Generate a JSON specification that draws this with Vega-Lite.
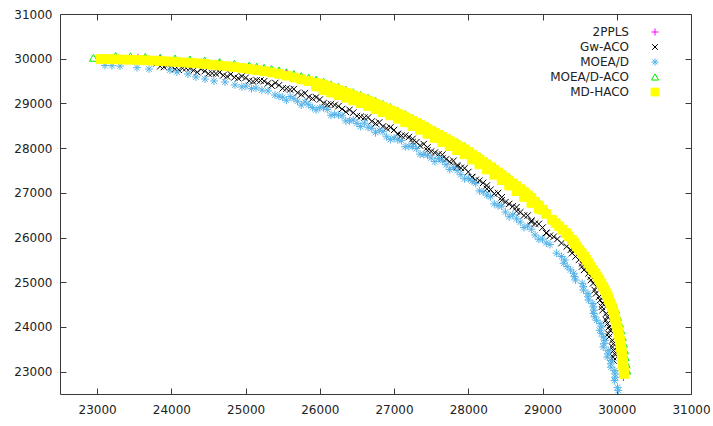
{
"$schema": "https://vega.github.io/schema/vega-lite/v6.json",
"width": 631, "height": 380,
"autosize": {"type": "none"},
"padding": {"left": 60, "top": 14, "right": 22, "bottom": 32},
"background": "white",
"config": {
  "view": {"stroke": "#3a3a3a", "strokeWidth": 1},
  "font": "DejaVu Sans",
  "axis": {"grid": false, "domain": false, "tickSize": -6, "tickColor": "#3a3a3a", "tickWidth": 1, "labelColor": "#222222", "labelFontSize": 12, "labelFont": "DejaVu Sans", "title": null},
  "legend": {"orient": "none", "legendX": 589, "legendY": 12, "labelAlign": "right", "labelOffset": -32, "rowPadding": 3, "symbolSize": 50, "labelFontSize": 12, "labelFont": "DejaVu Sans", "labelColor": "#222222", "padding": 0, "title": null, "symbolStrokeWidth": 1}
},
"data": {"values": [
{"alg":"2PPLS","f1":23550,"f2":30017},{"alg":"2PPLS","f1":23850,"f2":29994},{"alg":"2PPLS","f1":24650,"f2":29894},{"alg":"2PPLS","f1":25550,"f2":29667},{"alg":"2PPLS","f1":26150,"f2":29398},{"alg":"2PPLS","f1":26950,"f2":28888},{"alg":"2PPLS","f1":27450,"f2":28475},{"alg":"2PPLS","f1":27850,"f2":28110},{"alg":"2PPLS","f1":28450,"f2":27442},{"alg":"2PPLS","f1":28750,"f2":27064},{"alg":"2PPLS","f1":29560,"f2":25440},{"alg":"2PPLS","f1":29800,"f2":24830},{"alg":"2PPLS","f1":29970,"f2":24300},{"alg":"2PPLS","f1":30060,"f2":23700},{"alg":"2PPLS","f1":30090,"f2":22880},

{"alg":"Gw-ACO","f1":23800,"f2":29896},{"alg":"Gw-ACO","f1":23900,"f2":29814},{"alg":"Gw-ACO","f1":24000,"f2":29826},{"alg":"Gw-ACO","f1":24100,"f2":29753},{"alg":"Gw-ACO","f1":24200,"f2":29788},{"alg":"Gw-ACO","f1":24300,"f2":29740},{"alg":"Gw-ACO","f1":24400,"f2":29766},{"alg":"Gw-ACO","f1":24500,"f2":29665},{"alg":"Gw-ACO","f1":24600,"f2":29668},{"alg":"Gw-ACO","f1":24700,"f2":29627},{"alg":"Gw-ACO","f1":24800,"f2":29650},{"alg":"Gw-ACO","f1":24900,"f2":29563},{"alg":"Gw-ACO","f1":25000,"f2":29572},{"alg":"Gw-ACO","f1":25100,"f2":29490},{"alg":"Gw-ACO","f1":25200,"f2":29511},{"alg":"Gw-ACO","f1":25300,"f2":29447},{"alg":"Gw-ACO","f1":25400,"f2":29458},{"alg":"Gw-ACO","f1":25500,"f2":29338},{"alg":"Gw-ACO","f1":25600,"f2":29310},{"alg":"Gw-ACO","f1":25700,"f2":29237},{"alg":"Gw-ACO","f1":25800,"f2":29228},{"alg":"Gw-ACO","f1":25900,"f2":29110},{"alg":"Gw-ACO","f1":26000,"f2":29087},{"alg":"Gw-ACO","f1":26100,"f2":28971},{"alg":"Gw-ACO","f1":26200,"f2":28965},{"alg":"Gw-ACO","f1":26300,"f2":28874},{"alg":"Gw-ACO","f1":26400,"f2":28857},{"alg":"Gw-ACO","f1":26500,"f2":28716},{"alg":"Gw-ACO","f1":26600,"f2":28680},{"alg":"Gw-ACO","f1":26700,"f2":28597},{"alg":"Gw-ACO","f1":26800,"f2":28575},{"alg":"Gw-ACO","f1":26900,"f2":28443},{"alg":"Gw-ACO","f1":27000,"f2":28406},{"alg":"Gw-ACO","f1":27100,"f2":28280},{"alg":"Gw-ACO","f1":27200,"f2":28249},{"alg":"Gw-ACO","f1":27300,"f2":28132},{"alg":"Gw-ACO","f1":27400,"f2":28091},{"alg":"Gw-ACO","f1":27500,"f2":27925},{"alg":"Gw-ACO","f1":27600,"f2":27863},{"alg":"Gw-ACO","f1":27700,"f2":27749},{"alg":"Gw-ACO","f1":27800,"f2":27715},{"alg":"Gw-ACO","f1":27900,"f2":27560},{"alg":"Gw-ACO","f1":28000,"f2":27467},{"alg":"Gw-ACO","f1":28100,"f2":27290},{"alg":"Gw-ACO","f1":28200,"f2":27223},{"alg":"Gw-ACO","f1":28300,"f2":27071},{"alg":"Gw-ACO","f1":28400,"f2":26994},{"alg":"Gw-ACO","f1":28500,"f2":26791},{"alg":"Gw-ACO","f1":28600,"f2":26699},{"alg":"Gw-ACO","f1":28700,"f2":26563},{"alg":"Gw-ACO","f1":28800,"f2":26493},{"alg":"Gw-ACO","f1":28900,"f2":26312},{"alg":"Gw-ACO","f1":29000,"f2":26222},{"alg":"Gw-ACO","f1":29100,"f2":26040},{"alg":"Gw-ACO","f1":29200,"f2":25966},
{"alg":"Gw-ACO","f1":23850,"f2":29830},{"alg":"Gw-ACO","f1":23950,"f2":29858},{"alg":"Gw-ACO","f1":24050,"f2":29765},{"alg":"Gw-ACO","f1":24150,"f2":29786},{"alg":"Gw-ACO","f1":24250,"f2":29782},{"alg":"Gw-ACO","f1":24350,"f2":29698},{"alg":"Gw-ACO","f1":24450,"f2":29723},{"alg":"Gw-ACO","f1":24550,"f2":29672},{"alg":"Gw-ACO","f1":24650,"f2":29695},{"alg":"Gw-ACO","f1":24750,"f2":29604},{"alg":"Gw-ACO","f1":24850,"f2":29582},{"alg":"Gw-ACO","f1":24950,"f2":29605},{"alg":"Gw-ACO","f1":25050,"f2":29506},{"alg":"Gw-ACO","f1":25150,"f2":29516},{"alg":"Gw-ACO","f1":25250,"f2":29497},{"alg":"Gw-ACO","f1":25350,"f2":29398},{"alg":"Gw-ACO","f1":25450,"f2":29406},{"alg":"Gw-ACO","f1":25550,"f2":29329},{"alg":"Gw-ACO","f1":25650,"f2":29321},{"alg":"Gw-ACO","f1":25750,"f2":29198},{"alg":"Gw-ACO","f1":25850,"f2":29144},{"alg":"Gw-ACO","f1":25950,"f2":29136},{"alg":"Gw-ACO","f1":26050,"f2":29004},{"alg":"Gw-ACO","f1":26150,"f2":28983},{"alg":"Gw-ACO","f1":26250,"f2":28937},{"alg":"Gw-ACO","f1":26350,"f2":28811},{"alg":"Gw-ACO","f1":26450,"f2":28794},{"alg":"Gw-ACO","f1":26550,"f2":28703},{"alg":"Gw-ACO","f1":26650,"f2":28686},{"alg":"Gw-ACO","f1":26750,"f2":28551},{"alg":"Gw-ACO","f1":26850,"f2":28484},{"alg":"Gw-ACO","f1":26950,"f2":28462},{"alg":"Gw-ACO","f1":27050,"f2":28318},{"alg":"Gw-ACO","f1":27150,"f2":28280},{"alg":"Gw-ACO","f1":27250,"f2":28208},{"alg":"Gw-ACO","f1":27350,"f2":28057},{"alg":"Gw-ACO","f1":27450,"f2":28016},{"alg":"Gw-ACO","f1":27550,"f2":27899},{"alg":"Gw-ACO","f1":27650,"f2":27854},{"alg":"Gw-ACO","f1":27750,"f2":27697},{"alg":"Gw-ACO","f1":27850,"f2":27613},{"alg":"Gw-ACO","f1":27950,"f2":27551},{"alg":"Gw-ACO","f1":28050,"f2":27354},{"alg":"Gw-ACO","f1":28150,"f2":27272},{"alg":"Gw-ACO","f1":28250,"f2":27165},{"alg":"Gw-ACO","f1":28350,"f2":26978},{"alg":"Gw-ACO","f1":28450,"f2":26900},{"alg":"Gw-ACO","f1":28550,"f2":26750},{"alg":"Gw-ACO","f1":28650,"f2":26679},{"alg":"Gw-ACO","f1":28750,"f2":26493},{"alg":"Gw-ACO","f1":28850,"f2":26378},{"alg":"Gw-ACO","f1":28950,"f2":26305},{"alg":"Gw-ACO","f1":29050,"f2":26106},{"alg":"Gw-ACO","f1":29150,"f2":26018},
{"alg":"Gw-ACO","f1":27050,"f2":28308},{"alg":"Gw-ACO","f1":27250,"f2":28133},{"alg":"Gw-ACO","f1":27450,"f2":27950},{"alg":"Gw-ACO","f1":27650,"f2":27768},{"alg":"Gw-ACO","f1":27850,"f2":27585},{"alg":"Gw-ACO","f1":28050,"f2":27344},{"alg":"Gw-ACO","f1":28250,"f2":27089},{"alg":"Gw-ACO","f1":28450,"f2":26835},{"alg":"Gw-ACO","f1":28650,"f2":26589},{"alg":"Gw-ACO","f1":28850,"f2":26348},{"alg":"Gw-ACO","f1":29050,"f2":26096},
{"alg":"Gw-ACO","f1":29326,"f2":25800},{"alg":"Gw-ACO","f1":29398,"f2":25650},{"alg":"Gw-ACO","f1":29491,"f2":25500},{"alg":"Gw-ACO","f1":29532,"f2":25350},{"alg":"Gw-ACO","f1":29620,"f2":25200},{"alg":"Gw-ACO","f1":29652,"f2":25050},{"alg":"Gw-ACO","f1":29730,"f2":24900},{"alg":"Gw-ACO","f1":29720,"f2":24750},{"alg":"Gw-ACO","f1":29775,"f2":24600},{"alg":"Gw-ACO","f1":29799,"f2":24450},{"alg":"Gw-ACO","f1":29859,"f2":24300},{"alg":"Gw-ACO","f1":29854,"f2":24150},{"alg":"Gw-ACO","f1":29896,"f2":24000},{"alg":"Gw-ACO","f1":29886,"f2":23850},{"alg":"Gw-ACO","f1":29940,"f2":23700},{"alg":"Gw-ACO","f1":29942,"f2":23550},{"alg":"Gw-ACO","f1":29970,"f2":23400},{"alg":"Gw-ACO","f1":29957,"f2":23250},
{"alg":"Gw-ACO","f1":29255,"f2":25875},{"alg":"Gw-ACO","f1":29380,"f2":25725},{"alg":"Gw-ACO","f1":29445,"f2":25575},{"alg":"Gw-ACO","f1":29532,"f2":25425},{"alg":"Gw-ACO","f1":29559,"f2":25275},{"alg":"Gw-ACO","f1":29649,"f2":25125},{"alg":"Gw-ACO","f1":29681,"f2":24975},{"alg":"Gw-ACO","f1":29703,"f2":24825},{"alg":"Gw-ACO","f1":29763,"f2":24675},{"alg":"Gw-ACO","f1":29807,"f2":24525},{"alg":"Gw-ACO","f1":29809,"f2":24375},{"alg":"Gw-ACO","f1":29874,"f2":24225},{"alg":"Gw-ACO","f1":29875,"f2":24075},{"alg":"Gw-ACO","f1":29911,"f2":23925},{"alg":"Gw-ACO","f1":29896,"f2":23775},{"alg":"Gw-ACO","f1":29954,"f2":23625},{"alg":"Gw-ACO","f1":29956,"f2":23475},{"alg":"Gw-ACO","f1":29951,"f2":23325},

{"alg":"MOEA/D","f1":23106,"f2":29850},{"alg":"MOEA/D","f1":23200,"f2":29845},{"alg":"MOEA/D","f1":23308,"f2":29835},{"alg":"MOEA/D","f1":23537,"f2":29800},{"alg":"MOEA/D","f1":23699,"f2":29770},{"alg":"MOEA/D","f1":23982,"f2":29747},{"alg":"MOEA/D","f1":24076,"f2":29703},{"alg":"MOEA/D","f1":24224,"f2":29658},{"alg":"MOEA/D","f1":24332,"f2":29591},{"alg":"MOEA/D","f1":24453,"f2":29546},{"alg":"MOEA/D","f1":24574,"f2":29501},{"alg":"MOEA/D","f1":24723,"f2":29479},{"alg":"MOEA/D","f1":24857,"f2":29412},{"alg":"MOEA/D","f1":25005,"f2":29389},{"alg":"MOEA/D","f1":25140,"f2":29345},{"alg":"MOEA/D","f1":25302,"f2":29278},{"alg":"MOEA/D","f1":25396,"f2":29188},
{"alg":"MOEA/D","f1":24950,"f2":29370},{"alg":"MOEA/D","f1":25080,"f2":29330},{"alg":"MOEA/D","f1":25220,"f2":29300},{"alg":"MOEA/D","f1":25450,"f2":29160},
{"alg":"MOEA/D","f1":25500,"f2":29138},{"alg":"MOEA/D","f1":25600,"f2":29154},{"alg":"MOEA/D","f1":25700,"f2":29050},{"alg":"MOEA/D","f1":25800,"f2":29031},{"alg":"MOEA/D","f1":25900,"f2":28908},{"alg":"MOEA/D","f1":26000,"f2":28904},{"alg":"MOEA/D","f1":26100,"f2":28866},{"alg":"MOEA/D","f1":26200,"f2":28753},{"alg":"MOEA/D","f1":26300,"f2":28724},{"alg":"MOEA/D","f1":26400,"f2":28611},{"alg":"MOEA/D","f1":26500,"f2":28553},{"alg":"MOEA/D","f1":26600,"f2":28560},{"alg":"MOEA/D","f1":26700,"f2":28443},{"alg":"MOEA/D","f1":26800,"f2":28401},{"alg":"MOEA/D","f1":26900,"f2":28253},{"alg":"MOEA/D","f1":27000,"f2":28226},{"alg":"MOEA/D","f1":27100,"f2":28172},{"alg":"MOEA/D","f1":27200,"f2":28039},{"alg":"MOEA/D","f1":27300,"f2":27991},{"alg":"MOEA/D","f1":27400,"f2":27858},{"alg":"MOEA/D","f1":27500,"f2":27780},{"alg":"MOEA/D","f1":27600,"f2":27767},{"alg":"MOEA/D","f1":27700,"f2":27627},{"alg":"MOEA/D","f1":27800,"f2":27570},{"alg":"MOEA/D","f1":27900,"f2":27405},{"alg":"MOEA/D","f1":28000,"f2":27322},{"alg":"MOEA/D","f1":28100,"f2":27213},{"alg":"MOEA/D","f1":28200,"f2":27025},{"alg":"MOEA/D","f1":28300,"f2":26912},{"alg":"MOEA/D","f1":28400,"f2":26713},{"alg":"MOEA/D","f1":28500,"f2":26570},{"alg":"MOEA/D","f1":28600,"f2":26509},{"alg":"MOEA/D","f1":28700,"f2":26346},{"alg":"MOEA/D","f1":28800,"f2":26257},{"alg":"MOEA/D","f1":28900,"f2":26055},{"alg":"MOEA/D","f1":29000,"f2":25967},{"alg":"MOEA/D","f1":29100,"f2":25844},
{"alg":"MOEA/D","f1":25550,"f2":29071},{"alg":"MOEA/D","f1":25750,"f2":28963},{"alg":"MOEA/D","f1":25950,"f2":28856},{"alg":"MOEA/D","f1":26150,"f2":28735},{"alg":"MOEA/D","f1":26350,"f2":28608},{"alg":"MOEA/D","f1":26550,"f2":28482},{"alg":"MOEA/D","f1":26750,"f2":28345},{"alg":"MOEA/D","f1":26950,"f2":28190},{"alg":"MOEA/D","f1":27150,"f2":28031},{"alg":"MOEA/D","f1":27350,"f2":27865},{"alg":"MOEA/D","f1":27550,"f2":27699},{"alg":"MOEA/D","f1":27750,"f2":27521},{"alg":"MOEA/D","f1":27950,"f2":27314},{"alg":"MOEA/D","f1":28150,"f2":27044},{"alg":"MOEA/D","f1":28350,"f2":26753},{"alg":"MOEA/D","f1":28550,"f2":26465},{"alg":"MOEA/D","f1":28750,"f2":26224},{"alg":"MOEA/D","f1":28950,"f2":25961},
{"alg":"MOEA/D","f1":25650,"f2":29107},{"alg":"MOEA/D","f1":25850,"f2":28970},{"alg":"MOEA/D","f1":26050,"f2":28903},{"alg":"MOEA/D","f1":26250,"f2":28741},{"alg":"MOEA/D","f1":26450,"f2":28630},{"alg":"MOEA/D","f1":26650,"f2":28467},{"alg":"MOEA/D","f1":26850,"f2":28367},{"alg":"MOEA/D","f1":27050,"f2":28187},{"alg":"MOEA/D","f1":27250,"f2":28038},{"alg":"MOEA/D","f1":27450,"f2":27842},{"alg":"MOEA/D","f1":27650,"f2":27717},{"alg":"MOEA/D","f1":27850,"f2":27498},{"alg":"MOEA/D","f1":28050,"f2":27265},{"alg":"MOEA/D","f1":28250,"f2":26951},{"alg":"MOEA/D","f1":28450,"f2":26704},{"alg":"MOEA/D","f1":28650,"f2":26418},{"alg":"MOEA/D","f1":28850,"f2":26186},{"alg":"MOEA/D","f1":29050,"f2":25878},
{"alg":"MOEA/D","f1":29190,"f2":25650},{"alg":"MOEA/D","f1":29299,"f2":25500},{"alg":"MOEA/D","f1":29332,"f2":25350},{"alg":"MOEA/D","f1":29420,"f2":25200},{"alg":"MOEA/D","f1":29445,"f2":25050},{"alg":"MOEA/D","f1":29552,"f2":24900},{"alg":"MOEA/D","f1":29612,"f2":24750},{"alg":"MOEA/D","f1":29621,"f2":24600},{"alg":"MOEA/D","f1":29684,"f2":24450},{"alg":"MOEA/D","f1":29687,"f2":24300},{"alg":"MOEA/D","f1":29728,"f2":24150},{"alg":"MOEA/D","f1":29799,"f2":24000},{"alg":"MOEA/D","f1":29796,"f2":23850},{"alg":"MOEA/D","f1":29841,"f2":23700},{"alg":"MOEA/D","f1":29818,"f2":23550},{"alg":"MOEA/D","f1":29881,"f2":23400},{"alg":"MOEA/D","f1":29924,"f2":23250},{"alg":"MOEA/D","f1":29921,"f2":23100},{"alg":"MOEA/D","f1":29977,"f2":22950},{"alg":"MOEA/D","f1":29971,"f2":22800},{"alg":"MOEA/D","f1":30010,"f2":22650},{"alg":"MOEA/D","f1":30020,"f2":22580},
{"alg":"MOEA/D","f1":29257,"f2":25575},{"alg":"MOEA/D","f1":29286,"f2":25425},{"alg":"MOEA/D","f1":29376,"f2":25275},{"alg":"MOEA/D","f1":29430,"f2":25125},{"alg":"MOEA/D","f1":29534,"f2":24975},{"alg":"MOEA/D","f1":29552,"f2":24825},{"alg":"MOEA/D","f1":29614,"f2":24675},{"alg":"MOEA/D","f1":29678,"f2":24525},{"alg":"MOEA/D","f1":29691,"f2":24375},{"alg":"MOEA/D","f1":29705,"f2":24225},{"alg":"MOEA/D","f1":29776,"f2":24075},{"alg":"MOEA/D","f1":29768,"f2":23925},{"alg":"MOEA/D","f1":29819,"f2":23775},{"alg":"MOEA/D","f1":29827,"f2":23625},{"alg":"MOEA/D","f1":29885,"f2":23475},{"alg":"MOEA/D","f1":29873,"f2":23325},{"alg":"MOEA/D","f1":29920,"f2":23175},{"alg":"MOEA/D","f1":29974,"f2":23025},{"alg":"MOEA/D","f1":29979,"f2":22875},

{"alg":"MOEA/D-ACO","f1":22950,"f2":30020},{"alg":"MOEA/D-ACO","f1":23250,"f2":30061},{"alg":"MOEA/D-ACO","f1":23450,"f2":30053},{"alg":"MOEA/D-ACO","f1":23650,"f2":30040},{"alg":"MOEA/D-ACO","f1":23850,"f2":30024},{"alg":"MOEA/D-ACO","f1":24050,"f2":30004},{"alg":"MOEA/D-ACO","f1":24250,"f2":29983},{"alg":"MOEA/D-ACO","f1":24450,"f2":29957},{"alg":"MOEA/D-ACO","f1":24650,"f2":29924},{"alg":"MOEA/D-ACO","f1":24850,"f2":29886},{"alg":"MOEA/D-ACO","f1":25050,"f2":29847},{"alg":"MOEA/D-ACO","f1":25150,"f2":29822},{"alg":"MOEA/D-ACO","f1":25250,"f2":29795},{"alg":"MOEA/D-ACO","f1":25350,"f2":29767},{"alg":"MOEA/D-ACO","f1":25450,"f2":29737},{"alg":"MOEA/D-ACO","f1":25550,"f2":29697},{"alg":"MOEA/D-ACO","f1":25650,"f2":29655},{"alg":"MOEA/D-ACO","f1":25750,"f2":29611},{"alg":"MOEA/D-ACO","f1":25850,"f2":29572},{"alg":"MOEA/D-ACO","f1":25950,"f2":29530},{"alg":"MOEA/D-ACO","f1":26050,"f2":29486},{"alg":"MOEA/D-ACO","f1":26150,"f2":29428},{"alg":"MOEA/D-ACO","f1":26250,"f2":29371},{"alg":"MOEA/D-ACO","f1":26350,"f2":29312},{"alg":"MOEA/D-ACO","f1":26450,"f2":29252},{"alg":"MOEA/D-ACO","f1":26550,"f2":29191},{"alg":"MOEA/D-ACO","f1":26650,"f2":29128},{"alg":"MOEA/D-ACO","f1":26750,"f2":29060},{"alg":"MOEA/D-ACO","f1":26850,"f2":28990},{"alg":"MOEA/D-ACO","f1":26950,"f2":28918},{"alg":"MOEA/D-ACO","f1":27050,"f2":28843},{"alg":"MOEA/D-ACO","f1":27150,"f2":28763},{"alg":"MOEA/D-ACO","f1":27250,"f2":28680},{"alg":"MOEA/D-ACO","f1":27350,"f2":28596},{"alg":"MOEA/D-ACO","f1":27450,"f2":28505},{"alg":"MOEA/D-ACO","f1":27550,"f2":28414},{"alg":"MOEA/D-ACO","f1":27650,"f2":28323},{"alg":"MOEA/D-ACO","f1":27750,"f2":28231},{"alg":"MOEA/D-ACO","f1":27850,"f2":28140},{"alg":"MOEA/D-ACO","f1":27950,"f2":28047},{"alg":"MOEA/D-ACO","f1":28050,"f2":27930},{"alg":"MOEA/D-ACO","f1":28150,"f2":27822},{"alg":"MOEA/D-ACO","f1":28250,"f2":27707},{"alg":"MOEA/D-ACO","f1":28350,"f2":27591},{"alg":"MOEA/D-ACO","f1":28450,"f2":27472},{"alg":"MOEA/D-ACO","f1":28550,"f2":27348},{"alg":"MOEA/D-ACO","f1":28650,"f2":27223},{"alg":"MOEA/D-ACO","f1":28750,"f2":27094},{"alg":"MOEA/D-ACO","f1":28850,"f2":26959},{"alg":"MOEA/D-ACO","f1":28950,"f2":26789},{"alg":"MOEA/D-ACO","f1":29050,"f2":26605},
{"alg":"MOEA/D-ACO","f1":29216,"f2":26325},{"alg":"MOEA/D-ACO","f1":29310,"f2":26175},{"alg":"MOEA/D-ACO","f1":29396,"f2":26025},{"alg":"MOEA/D-ACO","f1":29469,"f2":25875},{"alg":"MOEA/D-ACO","f1":29535,"f2":25725},{"alg":"MOEA/D-ACO","f1":29600,"f2":25575},{"alg":"MOEA/D-ACO","f1":29659,"f2":25425},{"alg":"MOEA/D-ACO","f1":29720,"f2":25275},{"alg":"MOEA/D-ACO","f1":29780,"f2":25125},{"alg":"MOEA/D-ACO","f1":29832,"f2":24975},{"alg":"MOEA/D-ACO","f1":29878,"f2":24825},{"alg":"MOEA/D-ACO","f1":29918,"f2":24675},{"alg":"MOEA/D-ACO","f1":29954,"f2":24525},{"alg":"MOEA/D-ACO","f1":29987,"f2":24375},{"alg":"MOEA/D-ACO","f1":30012,"f2":24225},{"alg":"MOEA/D-ACO","f1":30035,"f2":24075},{"alg":"MOEA/D-ACO","f1":30056,"f2":23925},{"alg":"MOEA/D-ACO","f1":30074,"f2":23775},{"alg":"MOEA/D-ACO","f1":30090,"f2":23625},{"alg":"MOEA/D-ACO","f1":30103,"f2":23475},{"alg":"MOEA/D-ACO","f1":30114,"f2":23325},{"alg":"MOEA/D-ACO","f1":30125,"f2":23175},{"alg":"MOEA/D-ACO","f1":30134,"f2":23025},

{"alg":"MD-HACO","f1":23050,"f2":29993},{"alg":"MD-HACO","f1":23150,"f2":29990},{"alg":"MD-HACO","f1":23250,"f2":29986},{"alg":"MD-HACO","f1":23350,"f2":29982},{"alg":"MD-HACO","f1":23450,"f2":29978},{"alg":"MD-HACO","f1":23550,"f2":29972},{"alg":"MD-HACO","f1":23650,"f2":29965},{"alg":"MD-HACO","f1":23750,"f2":29957},{"alg":"MD-HACO","f1":23850,"f2":29949},{"alg":"MD-HACO","f1":23950,"f2":29940},{"alg":"MD-HACO","f1":24050,"f2":29929},{"alg":"MD-HACO","f1":24150,"f2":29918},{"alg":"MD-HACO","f1":24250,"f2":29908},{"alg":"MD-HACO","f1":24350,"f2":29897},{"alg":"MD-HACO","f1":24450,"f2":29882},{"alg":"MD-HACO","f1":24550,"f2":29865},{"alg":"MD-HACO","f1":24650,"f2":29849},{"alg":"MD-HACO","f1":24750,"f2":29830},{"alg":"MD-HACO","f1":24850,"f2":29811},{"alg":"MD-HACO","f1":24950,"f2":29791},{"alg":"MD-HACO","f1":25050,"f2":29772},{"alg":"MD-HACO","f1":25150,"f2":29747},{"alg":"MD-HACO","f1":25250,"f2":29720},{"alg":"MD-HACO","f1":25350,"f2":29692},{"alg":"MD-HACO","f1":25450,"f2":29662},{"alg":"MD-HACO","f1":25550,"f2":29622},{"alg":"MD-HACO","f1":25650,"f2":29580},{"alg":"MD-HACO","f1":25750,"f2":29536},{"alg":"MD-HACO","f1":25850,"f2":29497},{"alg":"MD-HACO","f1":25950,"f2":29455},{"alg":"MD-HACO","f1":26050,"f2":29411},{"alg":"MD-HACO","f1":26150,"f2":29353},{"alg":"MD-HACO","f1":26250,"f2":29296},{"alg":"MD-HACO","f1":26350,"f2":29237},{"alg":"MD-HACO","f1":26450,"f2":29177},{"alg":"MD-HACO","f1":26550,"f2":29116},{"alg":"MD-HACO","f1":26650,"f2":29053},{"alg":"MD-HACO","f1":26750,"f2":28985},{"alg":"MD-HACO","f1":26850,"f2":28915},{"alg":"MD-HACO","f1":26950,"f2":28843},{"alg":"MD-HACO","f1":27050,"f2":28768},{"alg":"MD-HACO","f1":27150,"f2":28688},{"alg":"MD-HACO","f1":27250,"f2":28605},{"alg":"MD-HACO","f1":27350,"f2":28521},{"alg":"MD-HACO","f1":27450,"f2":28430},{"alg":"MD-HACO","f1":27550,"f2":28339},{"alg":"MD-HACO","f1":27650,"f2":28248},{"alg":"MD-HACO","f1":27750,"f2":28156},{"alg":"MD-HACO","f1":27850,"f2":28065},{"alg":"MD-HACO","f1":27950,"f2":27972},{"alg":"MD-HACO","f1":28050,"f2":27855},{"alg":"MD-HACO","f1":28150,"f2":27747},{"alg":"MD-HACO","f1":28250,"f2":27632},{"alg":"MD-HACO","f1":28350,"f2":27516},{"alg":"MD-HACO","f1":28450,"f2":27397},{"alg":"MD-HACO","f1":28550,"f2":27273},{"alg":"MD-HACO","f1":28650,"f2":27148},{"alg":"MD-HACO","f1":28750,"f2":27019},{"alg":"MD-HACO","f1":28850,"f2":26884},{"alg":"MD-HACO","f1":28950,"f2":26714},{"alg":"MD-HACO","f1":29050,"f2":26530},
{"alg":"MD-HACO","f1":26000,"f2":29433},{"alg":"MD-HACO","f1":26100,"f2":29382},{"alg":"MD-HACO","f1":26200,"f2":29325},{"alg":"MD-HACO","f1":26300,"f2":29267},{"alg":"MD-HACO","f1":26400,"f2":29207},{"alg":"MD-HACO","f1":26500,"f2":29147},{"alg":"MD-HACO","f1":26600,"f2":29085},{"alg":"MD-HACO","f1":26700,"f2":29019},{"alg":"MD-HACO","f1":26800,"f2":28950},{"alg":"MD-HACO","f1":26900,"f2":28879},{"alg":"MD-HACO","f1":27000,"f2":28806},{"alg":"MD-HACO","f1":27100,"f2":28728},{"alg":"MD-HACO","f1":27200,"f2":28647},{"alg":"MD-HACO","f1":27300,"f2":28563},{"alg":"MD-HACO","f1":27400,"f2":28476},{"alg":"MD-HACO","f1":27500,"f2":28385},{"alg":"MD-HACO","f1":27600,"f2":28294},{"alg":"MD-HACO","f1":27700,"f2":28202},{"alg":"MD-HACO","f1":27800,"f2":28111},{"alg":"MD-HACO","f1":27900,"f2":28019},{"alg":"MD-HACO","f1":28000,"f2":27914},{"alg":"MD-HACO","f1":28100,"f2":27801},{"alg":"MD-HACO","f1":28200,"f2":27690},{"alg":"MD-HACO","f1":28300,"f2":27574},{"alg":"MD-HACO","f1":28400,"f2":27457},{"alg":"MD-HACO","f1":28500,"f2":27335},{"alg":"MD-HACO","f1":28600,"f2":27211},{"alg":"MD-HACO","f1":28700,"f2":27084},{"alg":"MD-HACO","f1":28800,"f2":26952},{"alg":"MD-HACO","f1":28900,"f2":26799},{"alg":"MD-HACO","f1":29000,"f2":26622},
{"alg":"MD-HACO","f1":25950,"f2":29380},{"alg":"MD-HACO","f1":26050,"f2":29301},{"alg":"MD-HACO","f1":26150,"f2":29243},{"alg":"MD-HACO","f1":26250,"f2":29186},{"alg":"MD-HACO","f1":26350,"f2":29127},{"alg":"MD-HACO","f1":26450,"f2":29067},{"alg":"MD-HACO","f1":26550,"f2":29006},{"alg":"MD-HACO","f1":26650,"f2":28943},{"alg":"MD-HACO","f1":26750,"f2":28875},{"alg":"MD-HACO","f1":26850,"f2":28805},{"alg":"MD-HACO","f1":26950,"f2":28733},{"alg":"MD-HACO","f1":27050,"f2":28658},{"alg":"MD-HACO","f1":27150,"f2":28578},{"alg":"MD-HACO","f1":27250,"f2":28495},{"alg":"MD-HACO","f1":27350,"f2":28411},{"alg":"MD-HACO","f1":27450,"f2":28320},{"alg":"MD-HACO","f1":27550,"f2":28229},{"alg":"MD-HACO","f1":27650,"f2":28138},{"alg":"MD-HACO","f1":27750,"f2":28046},{"alg":"MD-HACO","f1":27850,"f2":27955},{"alg":"MD-HACO","f1":27950,"f2":27862},{"alg":"MD-HACO","f1":28050,"f2":27745},{"alg":"MD-HACO","f1":28150,"f2":27637},{"alg":"MD-HACO","f1":28250,"f2":27522},{"alg":"MD-HACO","f1":28350,"f2":27406},{"alg":"MD-HACO","f1":28450,"f2":27287},{"alg":"MD-HACO","f1":28550,"f2":27163},{"alg":"MD-HACO","f1":28650,"f2":27038},{"alg":"MD-HACO","f1":28750,"f2":26909},{"alg":"MD-HACO","f1":28850,"f2":26774},{"alg":"MD-HACO","f1":28950,"f2":26644},
{"alg":"MD-HACO","f1":29126,"f2":26400},{"alg":"MD-HACO","f1":29225,"f2":26250},{"alg":"MD-HACO","f1":29316,"f2":26100},{"alg":"MD-HACO","f1":29396,"f2":25950},{"alg":"MD-HACO","f1":29462,"f2":25800},{"alg":"MD-HACO","f1":29527,"f2":25650},{"alg":"MD-HACO","f1":29592,"f2":25500},{"alg":"MD-HACO","f1":29646,"f2":25350},{"alg":"MD-HACO","f1":29713,"f2":25200},{"alg":"MD-HACO","f1":29766,"f2":25050},{"alg":"MD-HACO","f1":29817,"f2":24900},{"alg":"MD-HACO","f1":29859,"f2":24750},{"alg":"MD-HACO","f1":29896,"f2":24600},{"alg":"MD-HACO","f1":29932,"f2":24450},{"alg":"MD-HACO","f1":29961,"f2":24300},{"alg":"MD-HACO","f1":29983,"f2":24150},{"alg":"MD-HACO","f1":30006,"f2":24000},{"alg":"MD-HACO","f1":30025,"f2":23850},{"alg":"MD-HACO","f1":30042,"f2":23700},{"alg":"MD-HACO","f1":30057,"f2":23550},{"alg":"MD-HACO","f1":30069,"f2":23400},{"alg":"MD-HACO","f1":30079,"f2":23250},{"alg":"MD-HACO","f1":30090,"f2":23100},{"alg":"MD-HACO","f1":30098,"f2":22950},
{"alg":"MD-HACO","f1":29176,"f2":26325},{"alg":"MD-HACO","f1":29270,"f2":26175},{"alg":"MD-HACO","f1":29356,"f2":26025},{"alg":"MD-HACO","f1":29429,"f2":25875},{"alg":"MD-HACO","f1":29495,"f2":25725},{"alg":"MD-HACO","f1":29560,"f2":25575},{"alg":"MD-HACO","f1":29619,"f2":25425},{"alg":"MD-HACO","f1":29680,"f2":25275},{"alg":"MD-HACO","f1":29740,"f2":25125},{"alg":"MD-HACO","f1":29792,"f2":24975},{"alg":"MD-HACO","f1":29838,"f2":24825},{"alg":"MD-HACO","f1":29878,"f2":24675},{"alg":"MD-HACO","f1":29914,"f2":24525},{"alg":"MD-HACO","f1":29947,"f2":24375},{"alg":"MD-HACO","f1":29972,"f2":24225},{"alg":"MD-HACO","f1":29995,"f2":24075},{"alg":"MD-HACO","f1":30016,"f2":23925},{"alg":"MD-HACO","f1":30034,"f2":23775},{"alg":"MD-HACO","f1":30050,"f2":23625},{"alg":"MD-HACO","f1":30063,"f2":23475},{"alg":"MD-HACO","f1":30074,"f2":23325},{"alg":"MD-HACO","f1":30085,"f2":23175},{"alg":"MD-HACO","f1":30094,"f2":23025}
]},
"layer": [
  {
    "mark": {"type": "point", "size": 64, "strokeWidth": 1, "opacity": 1, "clip": true},
    "encoding": {
      "x": {"field": "f1", "type": "quantitative", "scale": {"domain": [22500, 31000], "nice": false, "zero": false},
            "axis": {"orient": "bottom", "values": [23000,24000,25000,26000,27000,28000,29000,30000,31000], "format": "d", "labelPadding": 16, "labelOverlap": false, "labelBound": false, "labelFlush": false}},
      "y": {"field": "f2", "type": "quantitative", "scale": {"domain": [22500, 31000], "nice": false, "zero": false},
            "axis": {"orient": "left", "values": [23000,24000,25000,26000,27000,28000,29000,30000,31000], "format": "d", "labelPadding": 14, "labelOverlap": false, "labelBound": false, "labelFlush": false}},
      "shape": {"field": "alg", "type": "nominal",
                "scale": {"domain": ["2PPLS","Gw-ACO","MOEA/D","MOEA/D-ACO","MD-HACO"],
                          "range": ["M-1,0L1,0M0,-1L0,1", "M-0.8,-0.8L0.8,0.8M-0.8,0.8L0.8,-0.8", "M-1,0L1,0M0,-1L0,1M-0.7,-0.7L0.7,0.7M-0.7,0.7L0.7,-0.7", "triangle-up", "M-1.1,-1.1H1.1V1.1H-1.1Z"]},
                "legend": {"title": null, "orient": "none", "legendX": 589, "legendY": 12, "labelAlign": "right", "labelOffset": -32, "rowPadding": 3}},
      "stroke": {"field": "alg", "type": "nominal",
                 "scale": {"domain": ["2PPLS","Gw-ACO","MOEA/D","MOEA/D-ACO","MD-HACO"], "range": ["#ff00ff","#000000","#56b4e9","#00ee00","#ffff00"]},
                 "legend": {"title": null}},
      "fill": {"field": "alg", "type": "nominal",
               "scale": {"domain": ["2PPLS","Gw-ACO","MOEA/D","MOEA/D-ACO","MD-HACO"], "range": ["transparent","transparent","transparent","transparent","#ffff00"]},
               "legend": {"title": null}}
    }
  },
  {
    "transform": [{"filter": "datum.alg === '2PPLS'"}],
    "mark": {"type": "point", "opacity": 0},
    "encoding": {
      "x": {"field": "f1", "type": "quantitative", "axis": {"orient": "top", "values": [23000,24000,25000,26000,27000,28000,29000,30000,31000], "labels": false}},
      "y": {"field": "f2", "type": "quantitative", "axis": {"orient": "right", "values": [23000,24000,25000,26000,27000,28000,29000,30000,31000], "labels": false}}
    }
  }
],
"resolve": {"axis": {"x": "independent", "y": "independent"}}
}
